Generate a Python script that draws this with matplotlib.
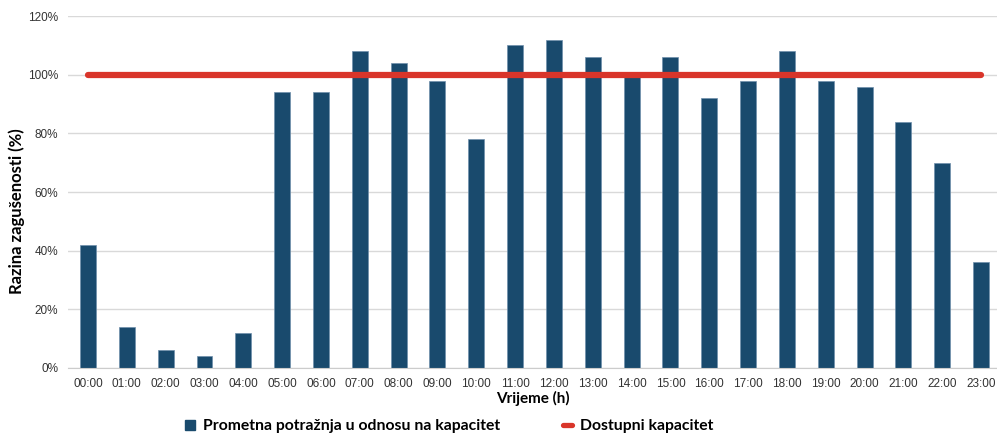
import numpy as np
import matplotlib.pyplot as plt
from matplotlib.lines import Line2D
from matplotlib.legend_handler import HandlerLine2D

sati = ['00:00', '01:00', '02:00', '03:00', '04:00', '05:00', '06:00', '07:00',
        '08:00', '09:00', '10:00', '11:00', '12:00', '13:00', '14:00', '15:00',
        '16:00', '17:00', '18:00', '19:00', '20:00', '21:00', '22:00', '23:00']
potraznja = [42, 14, 6, 4, 12, 94, 94, 108, 104, 98, 78, 110,
             112, 106, 100, 106, 92, 98, 108, 98, 96, 84, 70, 36]
kapacitet = [100] * len(sati)

boja_stupci = '#194a6d'
boja_linija = '#d9352a'

fig = plt.figure(figsize=(9.97, 4.37), dpi=100)
ax = fig.add_axes([0.068, 0.158, 0.932, 0.805])

x = np.arange(len(sati))
ax.bar(x, potraznja, width=0.41, color=boja_stupci, edgecolor='#6f8fab',
       linewidth=0.5, zorder=2)
ax.plot(x, kapacitet, color=boja_linija, linewidth=4.5, solid_capstyle='round', zorder=3)

ax.set_xlim(-0.52, 23.41)
ax.set_ylim(0, 120)
ax.set_yticks(np.arange(0, 121, 20))
ax.set_yticklabels([f'{v}%' for v in range(0, 121, 20)])
ax.set_xticks(x)
ax.set_xticklabels(sati)
ax.tick_params(length=0, labelsize=8.5, labelcolor='#333333', pad=7)
for lab in ax.get_xticklabels() + ax.get_yticklabels():
    lab.set_family('Liberation Sans')
ax.grid(axis='y', color='#d9d9d9', linewidth=1, zorder=0)
for s in ['top', 'right', 'left']:
    ax.spines[s].set_visible(False)
ax.spines['bottom'].set_color('#cccccc')

ax.set_xlabel('Vrijeme (h)', fontsize=11, fontweight='bold', family='Lato', labelpad=1)
ax.set_ylabel('Razina zagušenosti (%)', fontsize=12, fontweight='bold', family='Lato')
ax.yaxis.set_label_coords(-0.046, 0.446)

# legenda ispod grafa
h1 = Line2D([], [], marker='s', linestyle='none', color=boja_stupci, markersize=7)
h2 = Line2D([], [], color=boja_linija, linewidth=3.8, solid_capstyle='round')
fig.legend([h1, h2], ['Prometna potražnja u odnosu na kapacitet', 'Dostupni kapacitet'],
           handler_map={h2: HandlerLine2D(marker_pad=0)},
           loc='center', bbox_to_anchor=(0.451, 0.025), ncol=2, frameon=False,
           handlelength=0.6, handletextpad=0.5, columnspacing=4.0,
           prop={'family': 'Lato', 'weight': 'bold', 'size': 11.3})

plt.savefig('out.png', dpi=100)
